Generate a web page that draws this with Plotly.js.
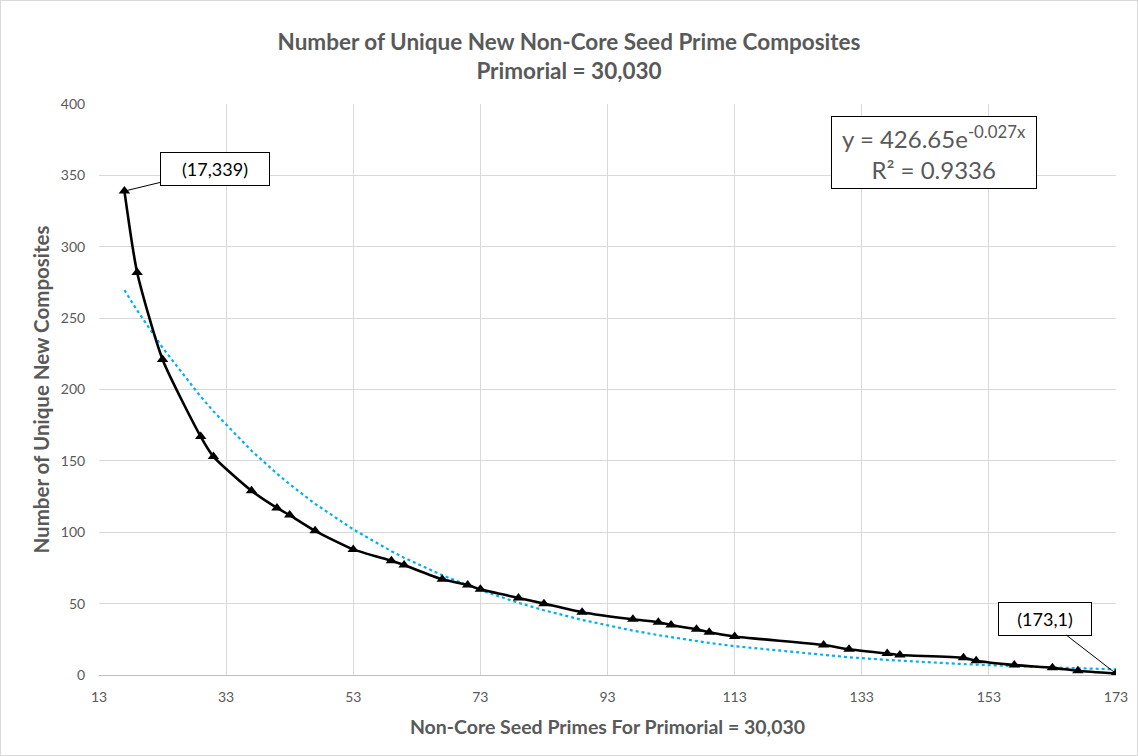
<!DOCTYPE html>
<html>
<head>
<meta charset="utf-8">
<script src="https://cdn.plot.ly/plotly-3.0.1.min.js"></script>
<style>
html,body{margin:0;padding:0;background:#fff;}
#chart{width:1138px;height:756px;box-sizing:border-box;border:1px solid #d9d9d9;}
</style>
</head>
<body>
<div id="chart"></div>
<script>
// Non-core seed primes (x) and number of unique new composites (y)
var seedPrimes = [17,19,23,29,31,37,41,43,47,53,59,61,67,71,73,79,83,89,97,101,103,107,109,113,127,131,137,139,149,151,157,163,167,173];
var uniqueComposites = [339,282,221,167,153,129,117,112,101,88,80,77,67,63,60,54,50,44,39,37,35,32,30,27,21,18,15,14,12,10,7,5,3,1];

// Exponential trendline coefficients shown on chart: y = a * e^(b x)
var trendA = 426.65;
var trendB = -0.027;
var trendR2 = "0.9336";

var xTicks = [13,33,53,73,93,113,133,153,173];
var yTicks = [0,50,100,150,200,250,300,350,400];

var trendY = seedPrimes.map(function(x){ return trendA*Math.exp(trendB*x); });

var font = "Lato, 'Open Sans', sans-serif";
var gray = "#595959";

var data = [
  {
    x: seedPrimes, y: trendY, type: "scatter", mode: "lines",
    line: {color: "#00B0F0", width: 2.2, dash: "dot"},
    hoverinfo: "skip", showlegend: false
  },
  {
    x: seedPrimes, y: uniqueComposites, type: "scatter", mode: "lines+markers",
    line: {color: "#000000", width: 2.6, shape: "spline", smoothing: 0.6},
    marker: {symbol: "triangle-up", size: 10, color: "#000000"},
    showlegend: false
  }
];

var layout = {
  width: 1136, height: 754,
  paper_bgcolor: "#ffffff", plot_bgcolor: "#ffffff",
  margin: {l: 98, r: 21, t: 103, b: 80},
  font: {family: font, color: gray},
  title: {
    text: "<b>Number of Unique New Non-Core Seed Prime Composites<br>Primorial = 30,030</b>",
    font: {family: font, size: 22.5, color: gray},
    x: 0.5, xanchor: "center", y: 0.935, yanchor: "top"
  },
  xaxis: {
    range: [13, 173], tickmode: "array", tickvals: xTicks, ticktext: xTicks.map(String),
    showgrid: true, gridcolor: "#d9d9d9", gridwidth: 1,
    showline: true, linecolor: "#bfbfbf", linewidth: 1, zeroline: false,
    ticks: "outside", ticklen: 9, tickcolor: "rgba(255,255,255,0)",
    tickfont: {family: font, size: 14, color: gray},
    title: {text: "<b>Non-Core Seed Primes For Primorial = 30,030</b>", font: {family: font, size: 19.5, color: gray}, standoff: 16}
  },
  yaxis: {
    range: [0, 400], tickmode: "array", tickvals: yTicks, ticktext: yTicks.map(String),
    showgrid: true, gridcolor: "#d9d9d9", gridwidth: 1,
    showline: false, zeroline: false,
    ticks: "outside", ticklen: 10, tickcolor: "rgba(255,255,255,0)",
    tickfont: {family: font, size: 14, color: gray},
    title: {text: "<b>Number of Unique New Composites</b>", font: {family: font, size: 20.5, color: gray}, standoff: 5}
  },
  annotations: [
    {
      x: seedPrimes[0], y: uniqueComposites[0], xref: "x", yref: "y",
      text: "(" + seedPrimes[0] + "," + uniqueComposites[0] + ")",
      showarrow: true, arrowhead: 0, arrowwidth: 1, arrowcolor: "#000",
      ax: 91, ay: -22, standoff: 3,
      font: {family: font, size: 18, color: "#000"},
      bordercolor: "#000", borderwidth: 1, borderpad: 5, bgcolor: "#fff",
      width: 98
    },
    {
      x: seedPrimes[seedPrimes.length-1], y: uniqueComposites[uniqueComposites.length-1], xref: "x", yref: "y",
      text: "(" + seedPrimes[seedPrimes.length-1] + "," + uniqueComposites[uniqueComposites.length-1] + ")",
      showarrow: true, arrowhead: 0, arrowwidth: 1, arrowcolor: "#000",
      ax: -71, ay: -55, standoff: 0,
      font: {family: font, size: 18, color: "#000"},
      bordercolor: "#000", borderwidth: 1, borderpad: 5, bgcolor: "#fff",
      width: 82
    },
    {
      x: 934, y: 152, xref: "paper", yref: "paper", xanchor: "center", yanchor: "middle",
      showarrow: false,
      text: "y = " + trendA + "e<sup>" + trendB + "x</sup><br>R² = " + trendR2,
      font: {family: font, size: 24, color: gray},
      bordercolor: "#000", borderwidth: 1, borderpad: 4, bgcolor: "#fff",
      width: 196
    }
  ]
};
// position equation box in paper coordinates (center ~ pixel 934,152)
var plotW = 1136 - 98 - 21, plotH = 754 - 103 - 80;
layout.annotations[2].x = (934 - 1 - 98) / plotW;
layout.annotations[2].y = 1 - (152 - 1 - 103) / plotH;

Plotly.newPlot("chart", data, layout, {displayModeBar: false, staticPlot: true});
</script>
</body>
</html>
